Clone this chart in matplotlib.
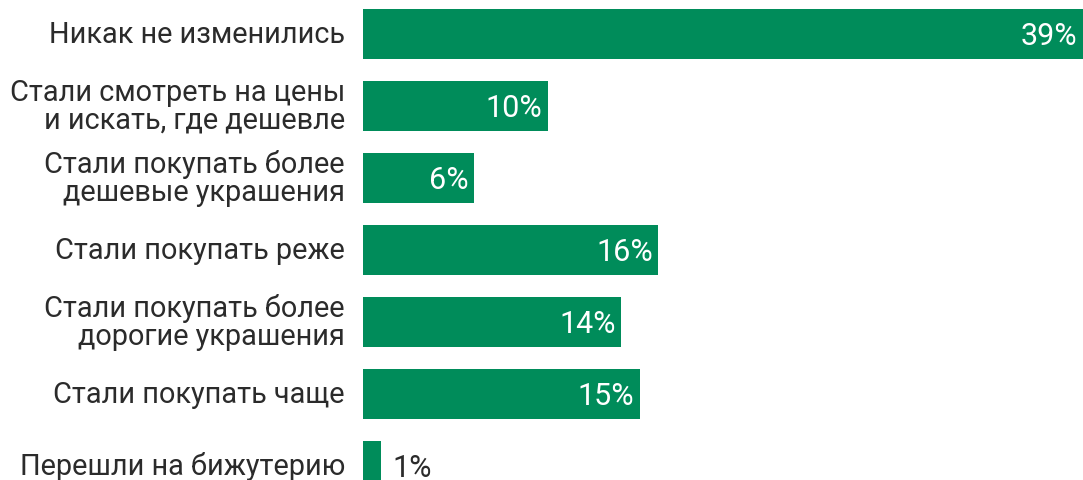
import matplotlib
matplotlib.use("Agg")
import matplotlib.pyplot as plt

categories = [
    "Никак не изменились",
    "Стали смотреть на цены\nи искать, где дешевле",
    "Стали покупать более\nдешевые украшения",
    "Стали покупать реже",
    "Стали покупать более\nдорогие украшения",
    "Стали покупать чаще",
    "Перешли на бижутерию",
]
values = [39, 10, 6, 16, 14, 15, 1]
value_labels = ["39%", "10%", "6%", "16%", "14%", "15%", "1%"]

bar_color = "#008C5A"
text_color = "#2b2b2b"

plt.rcParams["font.family"] = ["Roboto", "DejaVu Sans"]

fig = plt.figure(figsize=(10.83, 4.81), dpi=100)
ax = fig.add_axes([363 / 1083, 0, 1 - 363 / 1083, 1])

ypos = list(range(len(values)))
ax.barh(ypos, values, height=50 / 72, color=bar_color, align="center")
ax.set_xlim(0, 39)
ax.set_ylim(6 + 14 / 72, -35 / 72)
ax.axis("off")

for y, v, lab, cat in zip(ypos, values, value_labels, categories):
    if v >= 3:
        ax.annotate(lab, (v, y), xytext=(-4, -1), textcoords="offset points",
                    ha="right", va="center", color="white", fontsize=22)
    else:
        ax.annotate(lab, (v, y), xytext=(8, -1), textcoords="offset points",
                    ha="left", va="center", color=text_color, fontsize=22)
    ax.annotate(cat, (0, y), xytext=(-13, 0), textcoords="offset points",
                ha="right", va="center", color=text_color, fontsize=20.8,
                linespacing=1.0, annotation_clip=False)

fig.savefig("out.png", dpi=100)
